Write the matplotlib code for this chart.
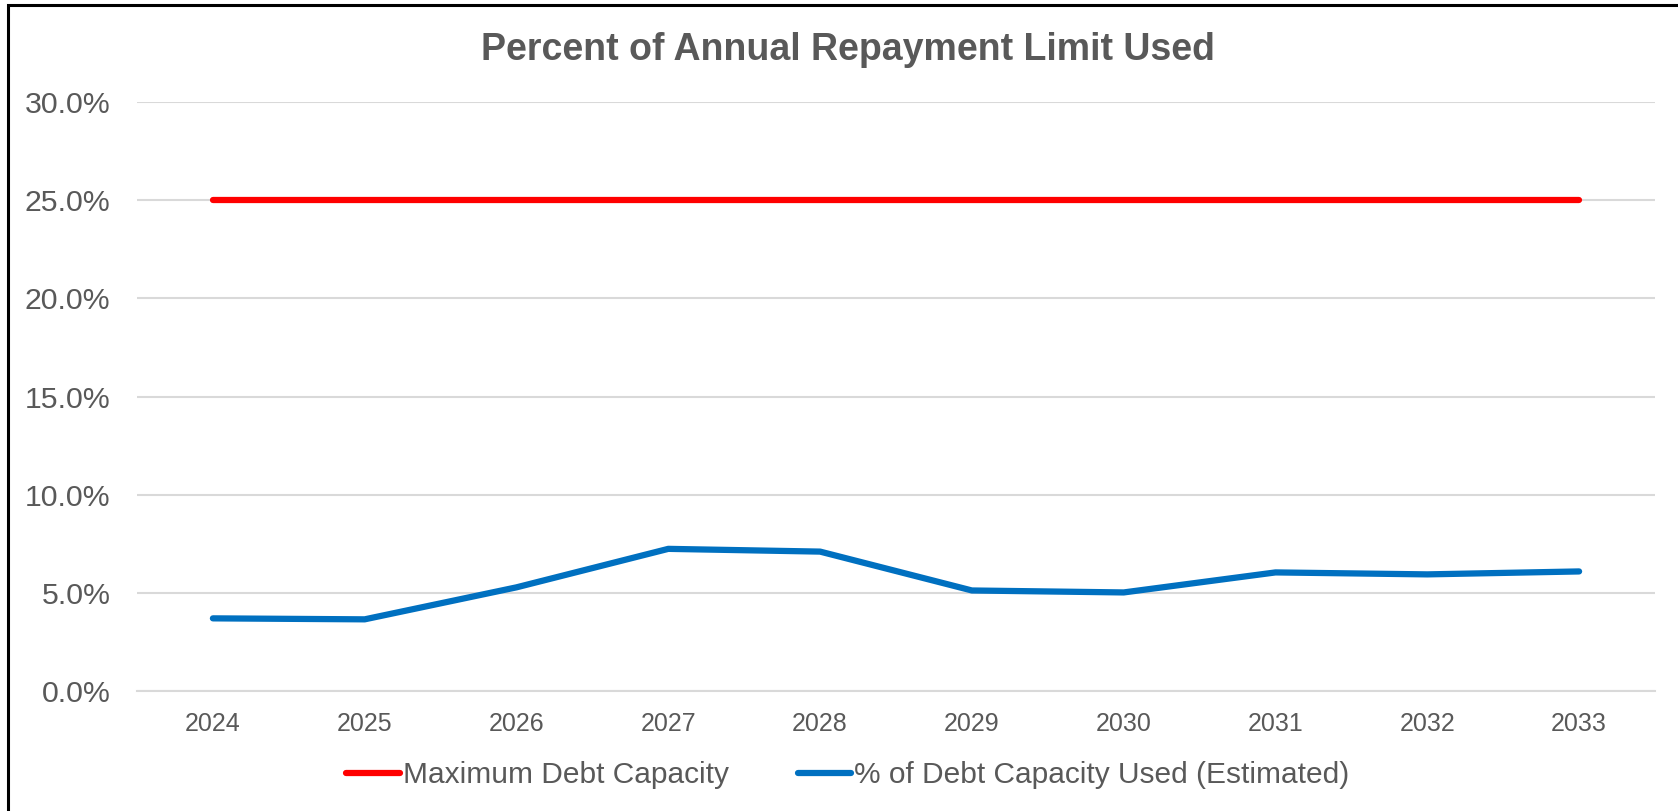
import matplotlib
matplotlib.use("Agg")
import matplotlib.pyplot as plt
from matplotlib.patches import Rectangle
from matplotlib.ticker import FuncFormatter

plt.rcParams['font.family'] = ['Liberation Sans', 'DejaVu Sans']

years = ['2024', '2025', '2026', '2027', '2028', '2029', '2030', '2031', '2032', '2033']
max_capacity = [0.25] * 10
capacity_used = [0.0370, 0.0365, 0.0528, 0.0724, 0.0710, 0.0512, 0.0502, 0.0604, 0.0594, 0.0609]

text_grey = '#595959'
grid_grey = '#D9D9D9'

fig = plt.figure(figsize=(16.78, 8.11), dpi=100)
ax = fig.add_axes([137 / 1678, 120 / 811, (1655 - 137) / 1678, (709 - 120) / 811])

x = range(len(years))
ax.plot(x, max_capacity, color='#FF0000', lw=4.5, solid_capstyle='round',
        label='Maximum Debt Capacity', zorder=3)
ax.plot(x, capacity_used, color='#0070C0', lw=4.5, solid_capstyle='round',
        solid_joinstyle='round', label='% of Debt Capacity Used (Estimated)', zorder=3)

ax.set_xlim(-0.5, len(years) - 0.5)
ax.set_ylim(0, 0.30)
ax.set_yticks([0, 0.05, 0.10, 0.15, 0.20, 0.25, 0.30])
ax.yaxis.set_major_formatter(FuncFormatter(lambda v, _: f'{v * 100:.1f}%'))
ax.set_xticks(list(x))
ax.set_xticklabels(years)

ax.grid(axis='y', color=grid_grey, lw=1.5, zorder=0)
ax.set_axisbelow(True)
for side in ['top', 'right', 'left']:
    ax.spines[side].set_visible(False)
ax.spines['bottom'].set_color(grid_grey)
ax.spines['bottom'].set_linewidth(1.5)

ax.tick_params(axis='y', length=0, pad=19, labelsize=21.8, labelcolor=text_grey)
ax.tick_params(axis='x', length=0, pad=15, labelsize=18, labelcolor=text_grey)

fig.text(848 / 1678, 1 - 50 / 811, 'Percent of Annual Repayment Limit Used',
         ha='center', va='center', fontsize=27, fontweight='bold', color=text_grey)

leg = fig.legend(loc='center', bbox_to_anchor=(848 / 1678, 1 - 775 / 811), ncol=2,
                 frameon=False, fontsize=21.5, handlelength=1.8, handletextpad=0.1,
                 columnspacing=2.3, labelcolor=text_grey)

# chart frame, left and top edges only visible
fig.patches.append(Rectangle((8 / 1678, -0.05), 1.1, 1.05 - 5 / 811,
                             transform=fig.transFigure, fill=False,
                             edgecolor='black', lw=2.2))

fig.savefig('out.png', dpi=100)
